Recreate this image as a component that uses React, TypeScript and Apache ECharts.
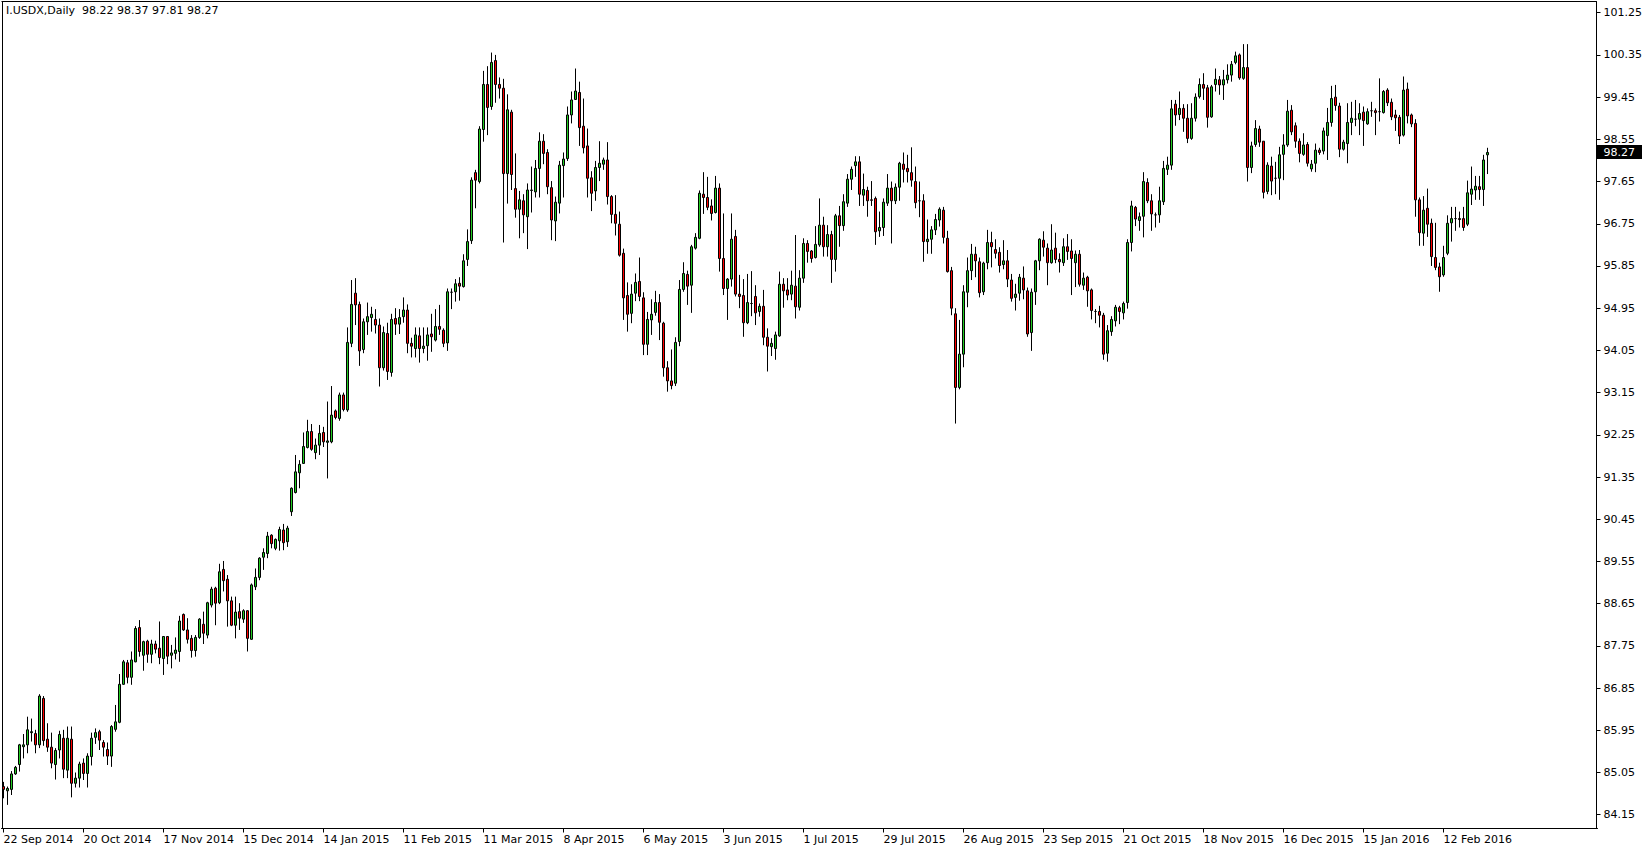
import React, { useEffect, useRef } from "react";
import * as echarts from "echarts";

const chartTitle = "I.USDX,Daily  98.22 98.37 97.81 98.27";
const lastPrice = 98.27;

const dateLabels = [
  "22 Sep 2014", "20 Oct 2014", "17 Nov 2014", "15 Dec 2014", "14 Jan 2015",
  "11 Feb 2015", "11 Mar 2015", "8 Apr 2015", "6 May 2015", "3 Jun 2015",
  "1 Jul 2015", "29 Jul 2015", "26 Aug 2015", "23 Sep 2015", "21 Oct 2015",
  "18 Nov 2015", "16 Dec 2015", "15 Jan 2016", "12 Feb 2016",
];
const LABEL_STEP = 20;

const priceTicks = [
  84.15, 85.05, 85.95, 86.85, 87.75, 88.65, 89.55, 90.45, 91.35, 92.25,
  93.15, 94.05, 94.95, 95.85, 96.75, 97.65, 98.55, 99.45, 100.35, 101.25,
];

const opens = [
  84.75, 84.66, 84.69, 85.02, 85.22, 85.60, 85.64, 85.90, 85.88, 85.64,
  86.63, 85.76, 85.59, 85.22, 85.53, 85.78, 85.10, 85.76, 84.82, 84.93,
  85.25, 85.03, 85.39, 85.80, 85.92, 85.69, 85.54, 85.40, 85.97, 86.12,
  86.93, 87.39, 87.08, 87.41, 88.14, 87.55, 87.85, 87.57, 87.79, 87.70,
  87.48, 87.95, 87.55, 87.59, 87.63, 88.42, 88.09, 87.91, 87.65, 87.93,
  88.21, 87.98, 88.62, 88.98, 88.67, 89.38, 89.17, 88.71, 88.19, 88.48,
  88.32, 88.50, 87.89, 89.01, 89.21, 89.64, 89.72, 90.11, 89.83, 89.99,
  90.22, 89.97, 90.61, 91.02, 91.44, 91.64, 91.98, 92.32, 91.87, 92.03,
  92.30, 92.09, 92.10, 92.76, 92.60, 93.10, 92.78, 94.20, 95.27, 95.03,
  94.07, 94.66, 94.75, 94.71, 94.59, 93.68, 94.41, 93.58, 94.73, 94.61,
  94.77, 94.91, 94.20, 94.09, 94.36, 94.09, 94.15, 94.40, 94.27, 94.56,
  94.48, 94.21, 95.29, 95.30, 95.48, 95.41, 95.99, 96.39, 97.84, 97.65,
  98.76, 99.72, 99.25, 100.23, 99.72, 99.64, 97.82, 99.13, 97.50, 97.06,
  97.24, 96.90, 97.46, 97.43, 97.93, 98.51, 98.27, 97.52, 96.81, 97.19,
  97.99, 98.14, 99.07, 99.40, 99.55, 98.83, 98.41, 97.73, 97.45, 97.95,
  98.02, 98.11, 97.33, 96.95, 96.74, 96.12, 95.22, 94.84, 95.27, 95.52,
  95.17, 94.18, 94.70, 94.86, 95.07, 94.63, 93.68, 93.40, 93.35, 94.24,
  95.35, 95.67, 95.44, 96.23, 96.44, 97.38, 97.31, 97.13, 96.99, 97.51,
  96.01, 95.37, 95.57, 96.48, 95.25, 95.22, 94.64, 95.05, 95.20, 94.88,
  94.99, 94.33, 94.13, 94.09, 94.36, 95.46, 95.34, 95.25, 95.42, 94.97,
  95.59, 96.33, 96.17, 96.03, 96.30, 96.72, 96.26, 96.52, 95.99, 96.92,
  96.71, 97.19, 97.70, 97.99, 98.07, 97.36, 97.46, 97.26, 97.29, 96.60,
  96.67, 97.19, 97.51, 97.24, 97.53, 98.02, 97.93, 97.84, 97.65, 97.24,
  97.24, 96.37, 96.42, 96.62, 96.83, 97.04, 96.44, 95.75, 94.83, 93.26,
  93.97, 95.29, 95.75, 96.10, 95.94, 95.30, 95.92, 96.35, 96.20, 96.14,
  95.88, 95.96, 95.55, 95.18, 95.27, 95.59, 95.32, 94.43, 95.30, 95.96,
  96.40, 96.23, 95.92, 96.23, 95.99, 95.92, 96.26, 96.17, 95.92, 96.10,
  95.44, 95.61, 95.34, 94.88, 94.88, 94.80, 93.99, 94.45, 94.68, 94.96,
  94.85, 95.07, 96.35, 97.10, 96.82, 96.91, 97.63, 97.24, 96.94, 96.94,
  97.22, 97.91, 98.00, 99.30, 99.08, 99.21, 99.00, 98.57, 99.00, 99.46,
  99.72, 99.65, 99.03, 99.72, 99.82, 99.71, 99.82, 99.92, 100.19, 100.35,
  99.85, 100.08, 97.95, 98.44, 98.77, 98.51, 97.44, 97.98, 97.72, 97.72,
  98.23, 98.43, 99.17, 98.84, 98.51, 98.23, 98.44, 97.92, 98.04, 98.32,
  98.30, 98.63, 98.91, 99.45, 99.26, 98.34, 98.46, 98.91, 98.98, 98.98,
  99.13, 98.88, 99.16, 99.16, 99.14, 99.12, 99.60, 99.34, 99.07, 99.02,
  98.64, 99.62, 99.07, 98.89, 97.26, 96.55, 97.08, 96.76, 96.03, 95.83,
  95.66, 96.12, 96.77, 96.86, 96.86, 96.86, 96.74, 97.38, 97.47, 97.54,
  97.48, 98.22,
];

const highs = [
  84.85, 84.75, 85.08, 85.19, 85.66, 85.87, 86.24, 86.20, 85.96, 86.72,
  86.68, 86.10, 85.90, 85.57, 85.94, 85.96, 86.03, 86.03, 85.05, 85.28,
  85.35, 85.46, 85.90, 85.99, 85.96, 85.74, 85.69, 86.06, 86.49, 87.15,
  87.45, 87.45, 87.63, 88.17, 88.30, 87.86, 87.88, 87.88, 87.86, 88.27,
  87.96, 87.96, 87.77, 87.93, 88.39, 88.44, 88.34, 87.98, 87.98, 88.34,
  88.48, 88.69, 89.01, 89.01, 89.50, 89.56, 89.26, 88.80, 88.80, 88.66,
  88.53, 88.51, 89.08, 89.40, 89.64, 89.83, 90.18, 90.13, 90.04, 90.29,
  90.35, 90.31, 91.13, 91.82, 91.71, 92.30, 92.57, 92.48, 92.17, 92.46,
  92.42, 92.96, 93.29, 92.79, 93.15, 93.15, 94.54, 95.55, 95.59, 95.09,
  94.73, 95.07, 94.98, 94.93, 94.73, 94.56, 94.64, 94.83, 94.95, 94.93,
  95.18, 95.03, 94.32, 94.54, 94.54, 94.54, 94.54, 94.83, 94.93, 95.02,
  94.52, 95.37, 95.37, 95.57, 95.61, 96.10, 96.63, 97.74, 97.90, 98.83,
  100.01, 100.11, 100.40, 100.35, 99.87, 99.84, 99.51, 99.18, 98.25, 97.45,
  97.38, 97.61, 97.97, 98.11, 98.70, 98.66, 98.34, 97.66, 97.33, 98.09,
  98.27, 99.25, 99.57, 100.06, 99.78, 99.42, 98.78, 97.87, 98.09, 98.51,
  98.16, 98.49, 97.36, 97.36, 97.01, 96.22, 95.50, 95.46, 95.69, 96.03,
  95.29, 94.87, 95.14, 95.32, 95.25, 94.66, 93.82, 94.07, 94.33, 95.55,
  95.93, 95.75, 96.30, 96.55, 97.46, 97.85, 97.75, 97.27, 97.77, 97.61,
  96.97, 95.59, 96.97, 96.62, 95.66, 95.57, 95.68, 95.74, 95.44, 95.05,
  95.34, 94.52, 94.31, 94.45, 95.73, 95.59, 95.59, 95.75, 96.51, 95.76,
  96.44, 96.40, 96.19, 96.70, 97.29, 96.90, 96.72, 96.60, 96.96, 97.13,
  97.38, 97.81, 97.97, 98.19, 98.19, 97.82, 97.54, 97.66, 97.33, 97.01,
  97.29, 97.81, 97.65, 97.61, 98.07, 98.27, 98.22, 98.38, 97.97, 97.65,
  97.38, 96.84, 96.70, 96.96, 97.10, 97.11, 96.60, 95.83, 94.95, 94.70,
  95.44, 96.03, 96.32, 96.26, 96.03, 95.94, 96.62, 96.58, 96.42, 96.25,
  96.40, 96.19, 95.68, 95.47, 95.68, 95.84, 95.39, 95.37, 95.98, 96.44,
  96.59, 96.33, 96.74, 96.56, 96.12, 96.44, 96.53, 96.42, 96.18, 96.19,
  95.71, 95.64, 95.37, 94.93, 95.00, 94.85, 94.59, 94.78, 95.02, 95.00,
  95.09, 96.42, 97.24, 97.13, 96.99, 97.85, 97.72, 97.38, 96.99, 97.54,
  98.09, 98.18, 99.39, 99.39, 99.57, 99.30, 99.30, 99.32, 99.53, 99.85,
  99.96, 99.71, 99.71, 100.06, 99.90, 100.03, 100.15, 100.22, 100.42, 100.38,
  100.58, 100.58, 98.50, 98.96, 98.84, 98.51, 98.06, 98.18, 98.07, 98.39,
  98.66, 99.39, 99.28, 98.91, 98.57, 98.68, 98.49, 98.11, 98.46, 98.37,
  98.80, 99.22, 99.69, 99.71, 99.33, 98.54, 99.32, 99.35, 99.39, 99.32,
  99.25, 99.21, 99.35, 99.21, 99.85, 99.60, 99.64, 99.42, 99.18, 99.07,
  99.89, 99.76, 99.10, 98.98, 97.31, 97.34, 97.50, 96.86, 96.77, 95.92,
  96.28, 96.93, 97.11, 97.11, 97.01, 97.11, 97.67, 97.97, 97.77, 97.77,
  98.22, 98.37,
];

const lows = [
  84.50, 84.36, 84.57, 85.00, 85.07, 85.35, 85.46, 85.71, 85.46, 85.57,
  85.62, 85.49, 85.14, 84.90, 85.35, 84.93, 84.93, 84.52, 84.73, 84.73,
  84.89, 84.73, 85.20, 85.66, 85.53, 85.39, 85.21, 85.17, 85.92, 86.10,
  86.92, 86.95, 86.92, 87.40, 87.52, 87.22, 87.39, 87.38, 87.59, 87.36,
  87.13, 87.36, 87.27, 87.46, 87.41, 88.07, 87.80, 87.50, 87.52, 87.90,
  87.79, 87.91, 88.57, 88.19, 88.64, 88.91, 88.16, 88.17, 87.91, 88.09,
  88.24, 87.63, 87.88, 88.94, 89.15, 89.37, 89.62, 89.83, 89.79, 89.78,
  89.79, 89.86, 90.52, 91.00, 91.11, 91.63, 91.96, 91.91, 91.73, 91.82,
  91.99, 91.32, 92.07, 92.58, 92.55, 92.75, 92.74, 94.12, 94.59, 93.72,
  93.99, 94.38, 94.45, 94.41, 93.28, 93.62, 93.42, 93.49, 94.38, 94.40,
  94.64, 93.99, 93.90, 93.90, 93.79, 93.99, 93.83, 94.02, 94.24, 94.38,
  94.12, 94.04, 94.93, 95.09, 95.11, 95.39, 95.85, 96.32, 97.08, 97.61,
  98.50, 98.64, 99.18, 99.33, 99.42, 96.35, 97.18, 97.47, 96.88, 96.44,
  96.55, 96.21, 96.99, 97.31, 97.31, 98.02, 97.38, 96.40, 96.38, 96.97,
  97.31, 98.09, 98.89, 99.39, 98.41, 98.25, 97.31, 97.02, 97.24, 97.66,
  97.90, 97.16, 96.76, 96.50, 96.05, 94.70, 94.45, 94.63, 95.10, 95.10,
  93.95, 93.95, 94.38, 94.79, 94.27, 93.49, 93.17, 93.22, 93.29, 94.14,
  95.30, 95.02, 94.85, 96.20, 96.42, 96.96, 97.04, 96.82, 96.97, 95.73,
  95.23, 94.70, 95.41, 95.20, 94.95, 94.34, 94.61, 94.78, 94.59, 94.77,
  94.16, 93.60, 93.93, 93.85, 94.34, 94.96, 95.12, 95.12, 94.73, 94.90,
  95.49, 95.92, 95.92, 96.01, 96.26, 96.05, 96.05, 95.49, 95.73, 96.26,
  96.60, 97.11, 97.47, 97.75, 97.13, 97.13, 96.90, 97.13, 96.30, 96.47,
  96.49, 97.13, 96.33, 97.17, 97.24, 97.63, 97.63, 97.54, 97.08, 96.89,
  95.94, 96.11, 96.11, 96.51, 96.69, 96.33, 95.71, 94.80, 92.49, 93.22,
  93.69, 94.97, 95.55, 95.61, 95.18, 95.23, 95.78, 95.82, 96.01, 95.71,
  95.78, 95.40, 95.09, 94.90, 95.11, 95.14, 94.34, 94.04, 95.02, 95.76,
  96.05, 95.44, 95.90, 95.91, 95.71, 95.85, 95.98, 95.23, 95.40, 95.41,
  95.34, 94.98, 94.71, 94.63, 94.54, 93.85, 93.81, 94.36, 94.56, 94.61,
  94.71, 94.94, 96.16, 96.70, 96.60, 96.46, 97.19, 96.60, 96.67, 96.77,
  97.15, 97.79, 97.90, 98.84, 98.96, 98.71, 98.47, 98.54, 98.93, 99.42,
  99.39, 98.80, 99.01, 99.57, 99.50, 99.39, 99.74, 99.78, 100.15, 99.82,
  99.82, 97.65, 97.83, 98.39, 98.39, 97.29, 97.38, 97.36, 97.38, 97.26,
  97.68, 98.39, 98.64, 98.37, 98.06, 98.20, 97.97, 97.86, 97.85, 98.22,
  98.23, 98.11, 98.82, 99.16, 98.17, 98.31, 98.04, 98.64, 98.83, 98.64,
  98.41, 98.86, 99.03, 98.64, 98.93, 99.10, 99.26, 98.96, 98.73, 98.45,
  98.61, 98.89, 98.81, 96.90, 96.28, 96.28, 96.47, 95.85, 95.76, 95.30,
  95.62, 96.08, 96.37, 96.60, 96.67, 96.60, 96.70, 97.15, 97.26, 97.26,
  97.13, 97.81,
];

const closes = [
  84.69, 84.71, 85.02, 85.16, 85.64, 85.64, 85.96, 85.92, 85.64, 86.68,
  85.73, 85.59, 85.25, 85.52, 85.86, 85.12, 85.78, 84.82, 84.93, 85.23,
  85.03, 85.40, 85.78, 85.90, 85.74, 85.59, 85.40, 86.03, 86.13, 86.93,
  87.41, 87.08, 87.45, 88.12, 87.63, 87.84, 87.57, 87.79, 87.68, 87.50,
  87.95, 87.53, 87.60, 87.66, 88.28, 88.09, 87.89, 87.65, 87.93, 88.32,
  88.02, 88.67, 88.96, 88.66, 89.33, 89.14, 88.71, 88.19, 88.47, 88.34,
  88.50, 87.91, 89.05, 89.21, 89.62, 89.74, 90.09, 89.93, 90.02, 90.23,
  89.95, 90.26, 91.11, 91.46, 91.62, 92.00, 92.32, 91.94, 92.03, 92.28,
  92.10, 92.12, 92.67, 92.62, 93.10, 92.79, 94.22, 95.03, 95.02, 94.04,
  94.66, 94.77, 94.82, 94.59, 93.68, 94.43, 93.60, 94.71, 94.61, 94.75,
  94.91, 94.20, 94.14, 94.38, 94.09, 94.14, 94.38, 94.34, 94.56, 94.50,
  94.20, 95.30, 95.29, 95.47, 95.42, 95.96, 96.37, 97.68, 97.68, 98.77,
  99.72, 99.23, 100.19, 99.72, 99.64, 97.82, 99.18, 97.80, 97.06, 97.26,
  96.94, 97.47, 97.47, 97.93, 98.51, 98.25, 97.54, 96.83, 97.21, 98.00,
  98.13, 99.07, 99.39, 99.58, 98.80, 98.37, 97.72, 97.40, 97.95, 98.04,
  98.11, 97.33, 96.95, 96.76, 96.08, 95.17, 94.82, 95.25, 95.50, 95.20,
  94.18, 94.71, 94.82, 95.07, 94.65, 93.68, 93.40, 93.30, 94.22, 95.35,
  95.69, 95.42, 96.26, 96.46, 97.40, 97.31, 97.10, 96.97, 97.51, 96.01,
  95.37, 95.57, 96.42, 95.25, 95.20, 94.64, 95.07, 95.05, 94.85, 94.99,
  94.33, 94.14, 94.20, 94.38, 95.46, 95.32, 95.23, 95.44, 94.98, 95.59,
  96.33, 96.16, 96.01, 96.31, 96.72, 96.26, 96.52, 95.99, 96.92, 96.71,
  97.22, 97.70, 97.91, 98.07, 97.38, 97.48, 97.24, 97.25, 96.58, 96.67,
  97.21, 97.51, 97.24, 97.53, 98.04, 97.91, 97.86, 97.68, 97.20, 97.24,
  96.37, 96.42, 96.62, 96.84, 97.06, 96.46, 95.73, 94.95, 93.26, 93.97,
  95.30, 95.75, 96.10, 95.96, 95.28, 95.91, 96.35, 96.26, 96.12, 95.86,
  95.96, 95.57, 95.16, 95.25, 95.61, 95.34, 94.40, 95.29, 95.96, 96.42,
  96.25, 95.92, 96.19, 95.99, 95.94, 96.26, 96.16, 96.01, 96.10, 95.46,
  95.59, 95.32, 94.90, 94.88, 94.80, 93.97, 94.47, 94.71, 94.97, 94.88,
  95.05, 96.35, 97.13, 96.85, 96.90, 97.65, 97.24, 96.96, 96.94, 97.24,
  97.93, 98.00, 99.20, 99.07, 99.21, 99.00, 98.57, 99.00, 99.45, 99.72,
  99.64, 99.02, 99.67, 99.83, 99.71, 99.82, 99.92, 100.15, 100.33, 99.86,
  100.08, 97.95, 98.41, 98.78, 98.49, 97.42, 98.00, 97.66, 97.72, 98.22,
  98.43, 99.15, 98.71, 98.51, 98.25, 98.43, 98.04, 98.02, 98.32, 98.27,
  98.73, 98.91, 99.42, 99.27, 98.34, 98.49, 98.91, 99.00, 98.98, 99.10,
  98.95, 99.14, 99.16, 99.12, 99.14, 99.57, 99.33, 99.03, 99.01, 98.62,
  99.60, 99.05, 98.88, 97.26, 96.56, 97.04, 96.74, 96.05, 95.82, 95.62,
  96.03, 96.76, 96.86, 96.86, 96.84, 96.67, 97.41, 97.49, 97.55, 97.48,
  98.11, 98.27,
];

// empty slots kept on the right of the last bar (chart shift)
const EMPTY_SLOTS = 27;

const FONT = "DejaVu Sans";

export default function App() {
  const ref = useRef<HTMLDivElement>(null);

  useEffect(() => {
    if (!ref.current) return;
    const chart = echarts.init(ref.current, undefined, { renderer: "svg" });
    const total = opens.length + EMPTY_SLOTS;
    const slots: string[] = [];
    for (let i = 0; i < total; i++) slots.push(String(i));
    const candles = opens.map((o, i) => [o, closes[i], lows[i], highs[i]]);
    const showLabel = (index: number) =>
      index % LABEL_STEP === 0 && index / LABEL_STEP < dateLabels.length;

    const gridLeft = 1.5;
    const gridTop = 1.5;
    const gridWidth = total * 4;
    const gridHeight = 827;
    const frameRight = gridLeft + gridWidth - 1;

    chart.setOption({
      animation: false,
      backgroundColor: "#ffffff",
      title: {
        text: chartTitle,
        left: 6,
        top: 5,
        padding: 0,
        textStyle: {
          fontSize: 11,
          fontWeight: "normal",
          fontFamily: FONT,
          color: "#000000",
        },
      },
      grid: {
        left: gridLeft,
        top: gridTop,
        width: gridWidth,
        height: gridHeight,
        containLabel: false,
        outerBoundsMode: "none",
        show: false,
      },
      xAxis: {
        type: "category",
        data: slots,
        boundaryGap: true,
        axisLine: { show: true, lineStyle: { color: "#000000", width: 1 } },
        axisTick: {
          show: true,
          alignWithLabel: true,
          interval: (index: number) => showLabel(index),
          length: 4,
          lineStyle: { color: "#000000" },
        },
        axisLabel: {
          show: true,
          interval: (index: number) => showLabel(index),
          formatter: (_v: string, index: number) =>
            showLabel(index) ? dateLabels[index / LABEL_STEP] : "",
          align: "left",
          margin: 5,
          fontSize: 11,
          fontFamily: FONT,
          color: "#000000",
        },
        splitLine: { show: false },
      },
      yAxis: {
        type: "value",
        position: "right",
        offset: -1,
        min: 83.856,
        max: 101.489,
        scale: true,
        axisLine: { show: true, lineStyle: { color: "#000000", width: 1 } },
        axisTick: {
          show: true,
          length: 4,
          customValues: priceTicks,
          lineStyle: { color: "#000000" },
        },
        axisLabel: {
          show: true,
          customValues: priceTicks,
          formatter: (v: number) => v.toFixed(2),
          margin: 7,
          fontSize: 11,
          fontFamily: FONT,
          color: "#000000",
        },
        splitLine: { show: false },
      },
      series: [
        {
          type: "candlestick",
          data: candles,
          barWidth: 2,
          silent: true,
          itemStyle: {
            color: "#22cc22",
            color0: "#ff0000",
            borderColor: "#000000",
            borderColor0: "#000000",
            borderColorDoji: "#000000",
            borderWidth: 1,
          },
        },
      ],
    });

    // current price box on the right axis, placed through the y scale
    const py = chart.convertToPixel({ yAxisIndex: 0 }, lastPrice) as number;
    chart.setOption({
      graphic: [
        {
          type: "line",
          silent: true,
          z: 90,
          shape: { x1: gridLeft, y1: gridTop, x2: frameRight, y2: gridTop },
          style: { stroke: "#000000", lineWidth: 1 },
        },
        {
          type: "line",
          silent: true,
          z: 90,
          shape: { x1: gridLeft + 1, y1: gridTop, x2: gridLeft + 1, y2: gridTop + gridHeight },
          style: { stroke: "#000000", lineWidth: 1 },
        },
        {
          type: "rect",
          silent: true,
          z: 100,
          shape: { x: frameRight - 0.5, y: Math.round(py) - 7, width: 1642 - frameRight + 0.5, height: 14 },
          style: { fill: "#000000" },
        },
        {
          type: "text",
          silent: true,
          z: 101,
          x: frameRight + 7,
          y: Math.round(py),
          style: {
            text: lastPrice.toFixed(2),
            fill: "#ffffff",
            fontSize: 11,
            fontFamily: FONT,
            verticalAlign: "middle",
            align: "left",
          },
        },
      ],
    });
    return () => chart.dispose();
  }, []);

  return (
    <div
      ref={ref}
      style={{
        position: "absolute",
        left: 0,
        top: 0,
        width: 1642,
        height: 852,
        background: "#ffffff",
      }}
    />
  );
}
